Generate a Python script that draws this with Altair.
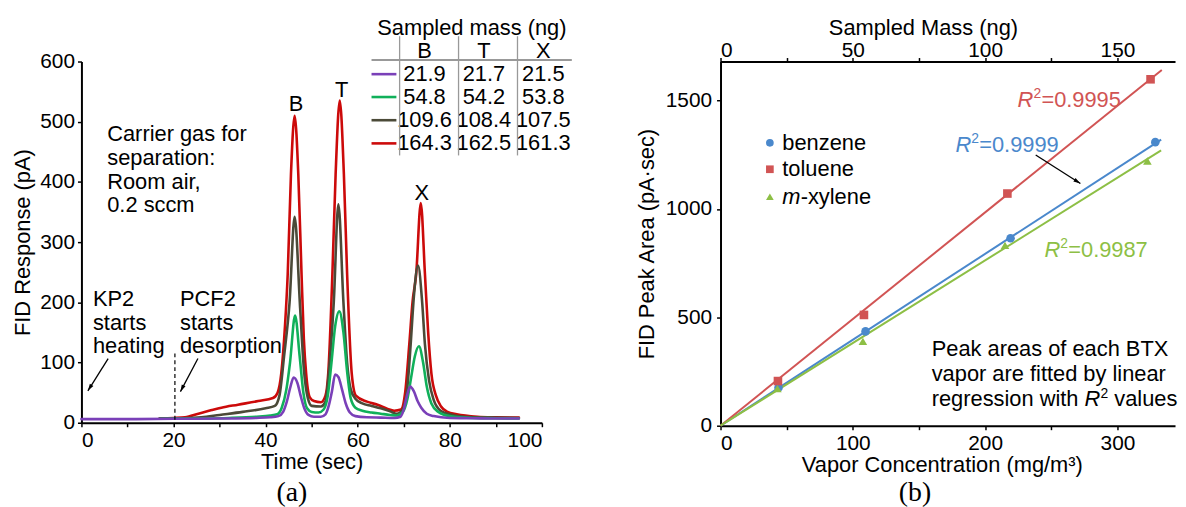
import altair as alt
import pandas as pd

FONT = "Liberation Sans"
FS = 22
LFS = 21

# ---------------- (a) chromatogram data ----------------
series_names = ["164.3 ng", "109.6 ng", "54.8 ng", "21.9 ng"]
series_colors = ["#cc0a0a", "#4b4a38", "#10b05a", "#7a40b8"]

t_red = [17, 20, 22.5, 25.4, 28.3, 30.4, 34, 38.4, 41.6, 42.6, 43.4, 44.2, 44.8, 45.5, 46.3, 47.1, 47.8, 48.3, 48.8, 49.6,
         50.5, 52, 53, 53.6, 54.5, 55.2, 56.1, 57, 57.7, 58.7, 59.6, 62, 64.3, 66.5, 67.9, 69.4, 70.3, 71.2, 71.9, 72.7,
         73.7, 74.6, 75.3, 76, 77, 78.1, 79.5, 81.5, 86, 90, 95]
v_red = [7.5, 8, 9, 15, 21, 25, 30, 36, 41, 50, 82, 160, 247, 412, 510, 412, 247, 140, 82, 42,
         36, 34, 45, 82, 247, 412, 535, 412, 247, 82, 45, 35, 30, 23, 20, 22, 50, 130, 200, 247,
         365, 247, 150, 82, 45, 27, 18, 14, 10, 9, 8.5]

t_dark = [17, 22, 26, 30, 35, 40, 42, 43, 44, 45.2, 46.3, 47.5, 48.3, 49.2, 50, 52, 53, 53.8, 54.8, 55.8, 56.9, 57.7,
          58.5, 59.5, 61, 63, 65, 67, 68.5, 69.8, 70.8, 71.5, 72.2, 73.1, 74, 74.6, 75.5, 76.5, 78, 80, 83, 88, 95]
v_dark = [7, 7.5, 9, 13, 18, 24, 28, 45, 110, 200, 342, 190, 90, 40, 28, 27, 35, 90, 200, 363, 200, 100,
          55, 40, 32, 28, 24, 19, 15, 22, 60, 130, 210, 261, 200, 130, 70, 38, 20, 14, 10, 8.5, 8]

t_green = [17, 25, 32, 38, 41, 42.5, 43.5, 44.5, 45.3, 46.4, 47.4, 48.2, 49, 50, 51.5, 52.6, 53.5, 54.3, 55.1, 56, 56.9,
           57.7, 58.5, 59.5, 61, 63, 65, 67, 68.5, 69.8, 70.8, 71.6, 72.4, 73.3, 74.2, 75, 76, 77.5, 80, 85, 90, 95]
v_green = [6.5, 7, 8, 10, 12, 14, 25, 55, 100, 178, 110, 50, 24, 18, 17, 22, 45, 100, 160, 185, 150,
           85, 40, 25, 20, 17, 15, 13, 12, 18, 40, 75, 110, 127, 100, 60, 32, 18, 11, 8, 7.5, 7]

t_purple = [0, 10, 20, 30, 38, 41, 42.8, 43.8, 44.6, 45.3, 46.1, 46.9, 47.6, 48.4, 49.3, 50.5, 52, 53, 53.7, 54.4,
            55.1, 55.8, 56.6, 57.4, 58.3, 59.5, 62, 65, 68, 69.3, 70, 70.7, 71.4, 72.2, 73, 73.8, 75, 76.5, 80, 85, 90, 95]
v_purple = [6, 6, 6.5, 7, 8, 9, 11, 18, 35, 57, 75, 66, 45, 24, 13, 10, 10, 14, 28, 52,
            80, 76, 55, 32, 17, 11, 9, 8.5, 8, 10, 22, 45, 60, 52, 36, 25, 15, 11, 8, 7.5, 7, 7]

mass_B = [21.9, 54.8, 109.6, 164.3]
mass_T = [21.7, 54.2, 108.4, 162.5]
mass_X = [21.5, 53.8, 107.5, 161.3]

# ---------------- (b) calibration data ----------------
compounds = ["benzene", "toluene", "m-xylene"]
comp_colors = ["#4a88cc", "#d15454", "#8dbf45"]
comp_shapes = ["circle", "square", "triangle-up"]
conc_B = [43.8, 109.6, 219.2, 328.6]
area_B = [175, 435, 865, 1308]
conc_T = [43.4, 108.4, 216.8, 325.0]
area_T = [206, 511, 1071, 1598]
conc_X = [43.0, 107.6, 215.0, 322.6]
area_X = [171, 389, 832, 1221]
fit_end_conc = [333, 333.5, 333]
fit_end_area = [1320, 1641, 1270]
r2_values = ["0.9999", "0.9995", "0.9987"]

ARROW = "M0,0L-0.5,1.7L0.5,1.7Z"

# ================= panel (a) =================
xa = alt.Scale(domain=[0, 100], nice=False)
ya = alt.Scale(domain=[0, 600], nice=False)
XA = alt.X("t:Q", scale=xa, title="Time (sec)",
           axis=alt.Axis(values=list(range(0, 101, 10)),
                         labelExpr="datum.value % 20 == 0 ? datum.label : ''",
                         labelPadding=3, titlePadding=1))
YA = alt.Y("v:Q", scale=ya, title="FID Response (pA)",
           axis=alt.Axis(values=list(range(0, 601, 100)), labelPadding=3, titlePadding=5))

layers_a = []
series_data = [(t_red, v_red), (t_dark, v_dark), (t_green, v_green), (t_purple, v_purple)]
for col, (ts, vs) in zip(series_colors, series_data):
    df = pd.DataFrame({"t": ts, "v": vs})
    layers_a.append(alt.Chart(df).mark_line(color=col, strokeWidth=2.6, interpolate="monotone",
                                            strokeCap="round", strokeJoin="round")
                    .encode(x=XA, y=YA))

def texts(df, **kw):
    base = dict(font=FONT, fontSize=FS, baseline="middle", color="black")
    base.update(kw)
    return alt.Chart(df).mark_text(**base).encode(x=XA, y=YA, text="s:N")

carrier = pd.DataFrame({"t": [5.6] * 4, "v": [480, 439, 399, 361],
                        "s": ["Carrier gas for", "separation:", "Room air,", "0.2 sccm"]})
kp2 = pd.DataFrame({"t": [2.5] * 3, "v": [205.5, 165, 127], "s": ["KP2", "starts", "heating"]})
pcf2 = pd.DataFrame({"t": [21.4] * 3, "v": [205.5, 165, 127], "s": ["PCF2", "starts", "desorption"]})
peaks = pd.DataFrame({"t": [46.6, 56.5, 73.9], "v": [530, 552, 381], "s": ["B", "T", "X"]})

layers_a += [texts(carrier, align="left"), texts(kp2, align="left"), texts(pcf2, align="left"),
             texts(peaks, align="center")]

# arrows (t, v = tip; t2, v2 = tail) and dashed line
arrows_a = pd.DataFrame({"t": [1.4, 21.5], "v": [53, 51.6], "t2": [5.8, 25.3], "v2": [106.6, 106.6],
                         "ang": [212, 207]})
layers_a.append(alt.Chart(arrows_a).mark_rule(color="black", strokeWidth=1.3)
                .encode(x=XA, y=YA, x2="t2:Q", y2="v2:Q"))
layers_a.append(alt.Chart(arrows_a).mark_point(shape=ARROW, filled=True, color="black", size=70, opacity=1)
                .encode(x=XA, y=YA, angle=alt.Angle("ang:Q", scale=None)))
dash = pd.DataFrame({"t": [20.3], "v": [5], "v2": [115]})
layers_a.append(alt.Chart(dash).mark_rule(color="black", strokeWidth=1.2, strokeDash=[4, 3])
                .encode(x=XA, y=YA, y2="v2:Q"))

# table
row_y = [579, 541, 502.5, 464]
col_x = [74.5, 87.4, 100.3]
tbl_rows = []
for ri in range(4):
    for ci, arr in enumerate([mass_B, mass_T, mass_X]):
        tbl_rows.append({"t": col_x[ci], "v": row_y[ri], "s": f"{arr[ri]:.1f}"})
tbl = pd.DataFrame(tbl_rows)
hdr = pd.DataFrame({"t": col_x, "v": [618] * 3, "s": ["B", "T", "X"]})
ttl = pd.DataFrame({"t": [84.8], "v": [656], "s": ["Sampled mass (ng)"]})
layers_a += [texts(tbl, align="center"), texts(hdr, align="center"), texts(ttl, align="center")]

hline = pd.DataFrame({"t": [63], "t2": [106.5], "v": [602.7]})
layers_a.append(alt.Chart(hline).mark_rule(color="#777777", strokeWidth=1.5).encode(x=XA, x2="t2:Q", y=YA))
vlines = pd.DataFrame({"t": [69.1, 81.9, 94.7], "v": [444] * 3, "v2": [642] * 3})
layers_a.append(alt.Chart(vlines).mark_rule(color="#999999", strokeWidth=1.3).encode(x=XA, y=YA, y2="v2:Q"))
for col, ry in zip(series_colors[::-1], row_y):
    seg = pd.DataFrame({"t": [63], "t2": [68.4], "v": [ry]})
    layers_a.append(alt.Chart(seg).mark_rule(strokeWidth=2.6, color=col).encode(x=XA, x2="t2:Q", y=YA))

panel_a = alt.layer(*layers_a).properties(
    width=464, height=364,
    title=alt.TitleParams("(a)", orient="bottom", anchor="middle", font="Liberation Serif", fontSize=28,
                          fontWeight="normal", dx=-20, offset=7, color="black"))

# ================= panel (b) =================
xb = alt.Scale(domain=[0, 343.5], nice=False)
yb = alt.Scale(domain=[0, 1680], nice=False)
XB = alt.X("c:Q", scale=xb, title="Vapor Concentration (mg/m³)",
           axis=alt.Axis(values=list(range(0, 301, 50)), orient="bottom", titleX=223,
                         labelExpr="datum.value % 100 == 0 ? datum.label : ''", labelPadding=3, titlePadding=1))
XB_TOP = alt.X("c:Q", scale=xb, title="Sampled Mass (ng)",
               axis=alt.Axis(values=list(range(0, 301, 50)), orient="top", titleX=204,
                             labelExpr="datum.value % 100 == 0 ? format(datum.value / 2, 'd') : ''",
                             labelPadding=-2.5, titlePadding=0))
YB = alt.Y("a:Q", scale=yb, title="FID Peak Area (pA·sec)",
           axis=alt.Axis(values=[0, 500, 1000, 1500], format="d", labelPadding=5, titlePadding=7))

layers_b = []
for name, col, ec, ea in zip(compounds, comp_colors, fit_end_conc, fit_end_area):
    fdf = pd.DataFrame({"c": [0, ec], "a": [0, ea]})
    layers_b.append(alt.Chart(fdf).mark_line(strokeWidth=2, color=col).encode(x=XB, y=YB))

for col, shp, cs, ars in zip(comp_colors, comp_shapes, [conc_B, conc_T, conc_X], [area_B, area_T, area_X]):
    pdf = pd.DataFrame({"c": cs, "a": ars})
    layers_b.append(alt.Chart(pdf).mark_point(filled=True, opacity=1, size=75, shape=shp, color=col)
                    .encode(x=XB, y=YB))

def textsb(df, **kw):
    base = dict(font=FONT, fontSize=FS, baseline="middle", align="left")
    base.update(kw)
    return alt.Chart(df).mark_text(**base).encode(x=XB, y=YB, text="s:N")

leg_y = [1305, 1183, 1056]
for col, shp, ly in zip(comp_colors, comp_shapes, leg_y):
    ldf = pd.DataFrame({"c": [37.3], "a": [ly]})
    layers_b.append(alt.Chart(ldf).mark_point(filled=True, opacity=1, size=60, shape=shp, color=col)
                    .encode(x=XB, y=YB))
layers_b.append(textsb(pd.DataFrame({"c": [46.7, 46.7], "a": leg_y[:2], "s": ["benzene", "toluene"]}),
                       color="black"))
layers_b.append(textsb(pd.DataFrame({"c": [46.7], "a": [leg_y[2]], "s": ["m"]}), color="black",
                       fontStyle="italic"))
layers_b.append(textsb(pd.DataFrame({"c": [46.7], "a": [leg_y[2]], "s": ["-xylene"]}), color="black", dx=18.5))

r2_pos_c = [177.5, 224.5, 244.8]
r2_pos_a = [1294, 1504, 812]
for col, rc, ra, rv in zip(comp_colors, r2_pos_c, r2_pos_a, r2_values):
    d1 = pd.DataFrame({"c": [rc], "a": [ra], "s": ["R"]})
    d2 = pd.DataFrame({"c": [rc], "a": [ra], "s": ["2"]})
    d3 = pd.DataFrame({"c": [rc], "a": [ra], "s": ["=" + rv]})
    layers_b += [textsb(d1, color=col, fontStyle="italic"),
                 textsb(d2, color=col, dx=16, dy=-6, fontSize=14),
                 textsb(d3, color=col, dx=24)]

arr_b = pd.DataFrame({"c": [272], "a": [1117], "c2": [238.2], "a2": [1249], "ang": [122.6]})
layers_b.append(alt.Chart(arr_b).mark_rule(color="black", strokeWidth=1.3)
                .encode(x=XB, y=YB, x2="c2:Q", y2="a2:Q"))
layers_b.append(alt.Chart(arr_b).mark_point(shape=ARROW, filled=True, color="black", size=70, opacity=1)
                .encode(x=XB, y=YB, angle=alt.Angle("ang:Q", scale=None)))

note_c = 159.6
layers_b.append(textsb(pd.DataFrame({"c": [note_c] * 3, "a": [354, 237, 122],
                                     "s": ["Peak areas of each BTX", "vapor are fitted by linear",
                                           "regression with"]}), color="black"))
layers_b.append(textsb(pd.DataFrame({"c": [note_c], "a": [122], "s": ["R"]}), color="black",
                       fontStyle="italic", dx=154))
layers_b.append(textsb(pd.DataFrame({"c": [note_c], "a": [122], "s": ["2"]}), color="black",
                       dx=170, dy=-5, fontSize=14))
layers_b.append(textsb(pd.DataFrame({"c": [note_c], "a": [122], "s": ["values"]}), color="black", dx=184))

main_b = alt.layer(*layers_b)
top_axis = alt.Chart(pd.DataFrame({"c": [0], "a": [0]})).mark_point(opacity=0).encode(x=XB_TOP, y=YB)

panel_b = alt.layer(main_b, top_axis).resolve_axis(x="independent").properties(
    width=458, height=367,
    title=alt.TitleParams("(b)", orient="bottom", anchor="middle", font="Liberation Serif", fontSize=28,
                          fontWeight="normal", dx=-33, offset=4, color="black"))

chart = alt.hconcat(panel_a, panel_b, spacing=180, bounds="flush").properties(
    padding={"left": 3, "top": 6, "right": 0, "bottom": 0}
).configure_view(stroke=None).configure_axis(
    grid=False, domainColor="black", domainWidth=2, tickColor="black", tickWidth=1.5, tickSize=4,
    labelFont=FONT, labelFontSize=LFS, labelColor="black", titleFont=FONT, titleFontSize=FS,
    titleFontWeight="normal", titleColor="black"
).configure_text(font=FONT)

chart.save("out.html", embed_options={"renderer": "svg", "actions": False})
